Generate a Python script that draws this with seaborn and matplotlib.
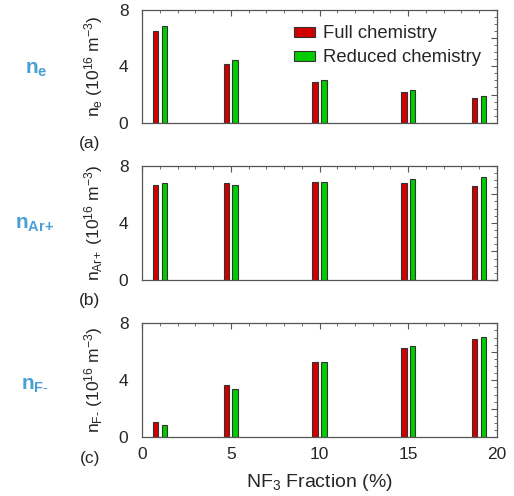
import numpy as np
import pandas as pd
import matplotlib
matplotlib.use("Agg")
import matplotlib.pyplot as plt
import seaborn as sns
from matplotlib.ticker import MultipleLocator

sns.set_style("white")
plt.rcParams['font.family'] = ['Liberation Sans', 'DejaVu Sans']
plt.rcParams['mathtext.fontset'] = 'custom'
plt.rcParams['mathtext.rm'] = 'Liberation Sans'
plt.rcParams['mathtext.it'] = 'Liberation Sans:italic'
plt.rcParams['mathtext.bf'] = 'Liberation Sans:bold'

nf3_fraction = [1, 5, 10, 15, 19]
series = ["Full chemistry", "Reduced chemistry"]
ne_full = [6.51, 4.19, 2.91, 2.15, 1.78]
ne_reduced = [6.89, 4.43, 3.03, 2.30, 1.92]
nar_full = [6.67, 6.76, 6.88, 6.76, 6.60]
nar_reduced = [6.76, 6.67, 6.85, 7.04, 7.23]
nf_full = [1.08, 3.67, 5.31, 6.29, 6.92]
nf_reduced = [0.89, 3.42, 5.26, 6.39, 7.04]

panels = [
    (ne_full, ne_reduced, r'n$_\mathrm{e}$ (10$^{16}$ m$^{-3}$)', '(a)', r'$\mathbf{n_{e}}$'),
    (nar_full, nar_reduced, r'n$_\mathrm{Ar\!+}$ (10$^{16}$ m$^{-3}$)', '(b)', r'$\mathbf{n_{Ar\!+}}$'),
    (nf_full, nf_reduced, r'n$_\mathrm{F\text{-}}$ (10$^{16}$ m$^{-3}$)', '(c)', r'$\mathbf{n_{F\text{-}}}$'),
]

W, H = 514, 496
fig = plt.figure(figsize=(W / 100, H / 100), dpi=100)
left = 142.3 / W
width = (496.7 - 142.3) / W
tops = [10, 165.7, 323.3]
bottoms = [122.7, 280, 437.3]
palette = {"Full chemistry": "#d00000", "Reduced chemistry": "#00cc00"}
side_y = [70, 225, 385]
side_x = [36, 35, 35]

for i, (full, red, ylab, tag, side) in enumerate(panels):
    ax = fig.add_axes([left, 1 - bottoms[i] / H, width, (bottoms[i] - tops[i]) / H])
    df = pd.DataFrame({
        "x": nf3_fraction * 2,
        "value": list(full) + list(red),
        "series": [series[0]] * 5 + [series[1]] * 5,
    })
    sns.barplot(data=df, x="x", y="value", hue="series", native_scale=True,
                width=0.25, gap=0.36, palette=palette, saturation=1,
                edgecolor="#333333", linewidth=0.8, ax=ax, legend=(i == 0))
    ax.set_xlim(0, 20)
    ax.set_ylim(0, 8)
    ax.set_yticks([0, 2, 4, 6, 8])
    ax.set_yticklabels(['0', '', '4', '', '8'])
    ax.set_xticks([0, 5, 10, 15, 20])
    ax.xaxis.set_minor_locator(MultipleLocator(1))
    ax.yaxis.set_minor_locator(MultipleLocator(0.5))
    ax.tick_params(which='both', direction='in', top=True, right=True,
                   color='#555555', labelsize=12.5)
    ax.tick_params(axis='y', pad=10)
    ax.tick_params(axis='x', pad=7)
    ax.tick_params(which='major', length=4, width=0.8)
    ax.tick_params(which='minor', length=2, width=0.6)
    if i < 2:
        ax.set_xticklabels([])
        ax.set_xlabel('')
    else:
        ax.set_xlabel(r'NF$_3$ Fraction (%)', fontsize=14, labelpad=7)
    ax.set_ylabel(ylab, fontsize=12.5, labelpad=10)
    for s in ax.spines.values():
        s.set_color('#555555')
        s.set_linewidth(0.9)
    fig.text(90 / W, 1 - (bottoms[i] + 21) / H, tag, fontsize=12.5,
             ha='center', va='center')
    fig.text(side_x[i] / W, 1 - side_y[i] / H, side, fontsize=15,
             color='#4a9fd4', ha='center', va='center')
    if i == 0:
        leg = ax.legend(loc='upper left', frameon=False, fontsize=13.3,
                        handlelength=1.1, handleheight=0.45, handletextpad=0.45,
                        labelspacing=0.38, borderaxespad=0.0,
                        bbox_to_anchor=((287 - 142.3) / (496.7 - 142.3), 0.93))

fig.savefig("out.png", dpi=100)
